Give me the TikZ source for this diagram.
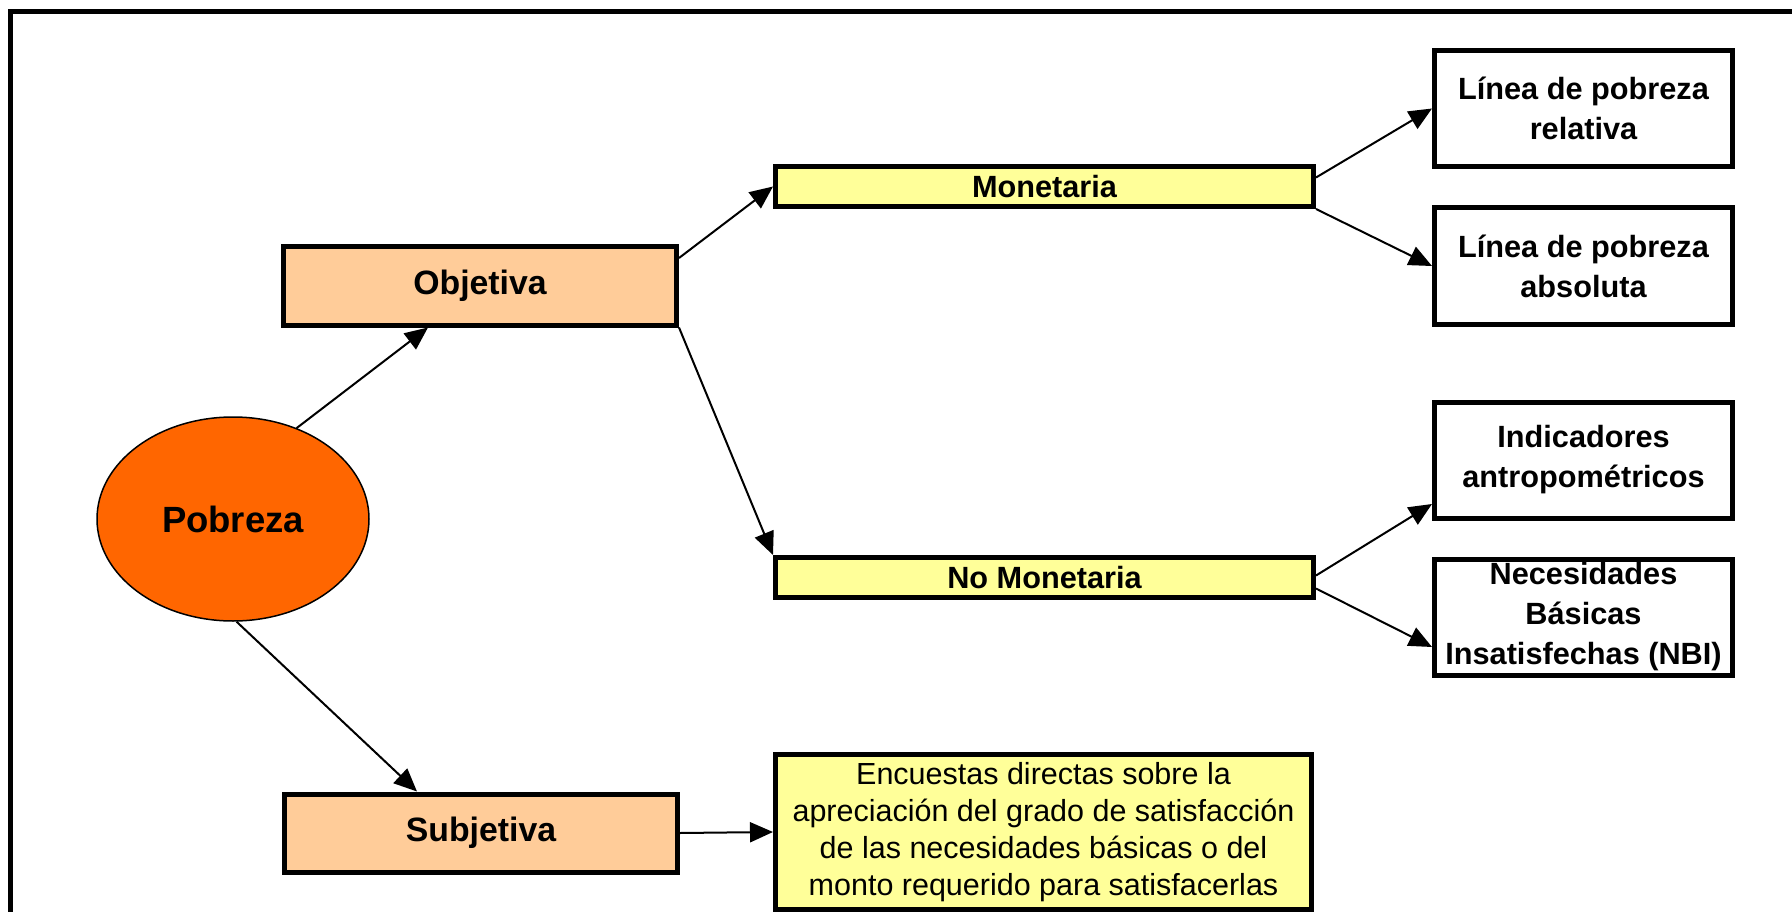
\documentclass[tikz,border=0pt]{standalone}
\usepackage{fontspec}
\setmainfont{Liberation Sans}
\usetikzlibrary{shapes.geometric,arrows.meta}
\definecolor{pobnaranja}{HTML}{FF6600}
\definecolor{tipodurazno}{HTML}{FFCC99}
\definecolor{medamarillo}{HTML}{FFFF99}
\begin{document}
\begin{tikzpicture}[x=1pt,y=-1pt,
    caja/.style={draw,line width=5pt,inner sep=0pt,align=center,
      font=\bfseries\fontsize{30.7}{40}\selectfont},
    tipo/.style={caja,fill=tipodurazno,minimum width=393pt,minimum height=78pt,
      font=\bfseries\fontsize{33.8}{40}\selectfont},
    medida/.style={caja,fill=medamarillo,minimum width=538pt,minimum height=40pt},
    indicador/.style={caja,fill=white,minimum width=298pt,minimum height=116pt},
    flecha/.style={-{Triangle[length=23pt,width=20pt]},line width=2pt}]
    \useasboundingbox (0,0) rectangle (1792,912);
    \draw [line width=5pt] (10,920) -- (10,12) -- (1800,12);
    \def\xm{1044.5}
    \def\xi{1583.5}
    \node (Pob) at (233,519) [ellipse,draw,line width=1.5pt,fill=pobnaranja,
      minimum width=272pt,minimum height=204pt,inner sep=0pt,
      font=\bfseries\fontsize{36.5}{40}\selectfont] {Pobreza};
    \node (Obj) at (480,286) [tipo] {Objetiva};
    \node (Sub) at (481,833) [tipo] {Subjetiva};
    \node (Mon) at (\xm,186.5) [medida] {Monetaria};
    \node (NoMon) at (\xm,577.5) [medida] {No Monetaria};
    \node (Enc) at (1043.5,832) [caja,fill=medamarillo,minimum width=536pt,
      minimum height=155pt,font=\fontsize{30.5}{37}\selectfont]
      {Encuestas directas sobre la\\apreciación del grado de satisfacción\\
       de las necesidades básicas o del\\monto requerido para satisfacerlas};
    \node (LPR) at (\xi,108.5) [indicador] {Línea de pobreza\\relativa};
    \node (LPA) at (\xi,266) [indicador] {Línea de pobreza\\absoluta};
    \node (IA) at (\xi,460) [indicador] {Indicadores\\antropométricos};
    \node (NBI) at (\xi,617) [indicador] {Necesidades\\Básicas\\Insatisfechas (NBI)};
    \path (Pob.55) edge [flecha] ([xshift=-52pt]Obj.south);
    \path (Pob.-88) edge [flecha] ([xshift=-64pt]Sub.north);
    \path ([yshift=28pt]Obj.east) edge [flecha] (Mon.west);
    \path (Obj.south east) edge [flecha] (NoMon.north west);
    \path (Sub.east) edge [flecha] (Enc.west);
    \path ([yshift=9pt]Mon.east) edge [flecha] (LPR.west);
    \path (Mon.south east) edge [flecha] (LPA.west);
    \path ([yshift=2pt]NoMon.east) edge [flecha] ([yshift=-44pt]IA.west);
    \path ([yshift=-11pt]NoMon.east) edge [flecha] ([yshift=-30pt]NBI.west);
  \end{tikzpicture}
\end{document}
